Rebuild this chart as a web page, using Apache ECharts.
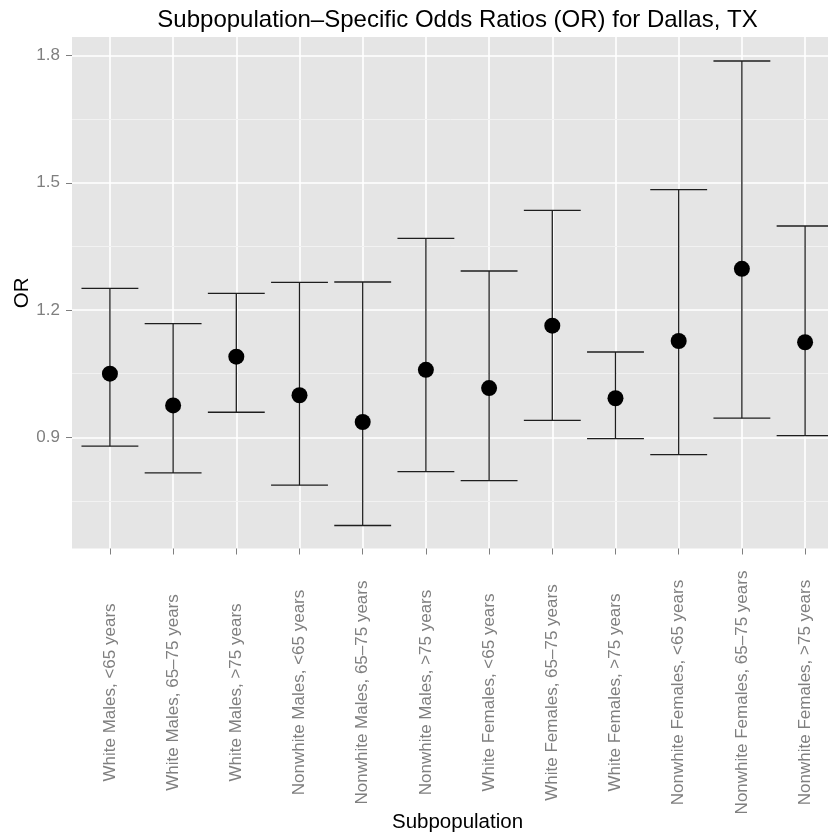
<!DOCTYPE html>
<html>
<head>
<meta charset="utf-8">
<script src="https://cdn.jsdelivr.net/npm/echarts@6/dist/echarts.min.js"></script>
<style>
  html, body { margin: 0; padding: 0; background: #ffffff; }
  #chart { width: 828px; height: 837px; }
</style>
</head>
<body>
<div id="chart"></div>
<script>
const categories = [
  'White Males, <65 years',
  'White Males, 65–75 years',
  'White Males, >75 years',
  'Nonwhite Males, <65 years',
  'Nonwhite Males, 65–75 years',
  'Nonwhite Males, >75 years',
  'White Females, <65 years',
  'White Females, 65–75 years',
  'White Females, >75 years',
  'Nonwhite Females, <65 years',
  'Nonwhite Females, 65–75 years',
  'Nonwhite Females, >75 years'
];
const orValues = [1.050, 0.975, 1.090, 0.999, 0.936, 1.059, 1.016, 1.163, 0.992, 1.127, 1.297, 1.124];
const lowerCI  = [0.879, 0.816, 0.959, 0.787, 0.692, 0.819, 0.798, 0.940, 0.897, 0.859, 0.945, 0.904];
const upperCI  = [1.251, 1.168, 1.239, 1.265, 1.266, 1.369, 1.292, 1.435, 1.101, 1.484, 1.787, 1.398];
const yMajorTicks = [0.9, 1.2, 1.5, 1.8];
const yMinorTicks = [0.75, 1.05, 1.35, 1.65];
const xPositions = categories.map((c, i) => i + 1);

const FONT = '"Liberation Sans", Arial, Helvetica, sans-serif';

const chart = echarts.init(document.getElementById('chart'), null, { renderer: 'canvas' });

const errData = categories.map((c, i) => [i + 1, lowerCI[i], upperCI[i]]);
const pointData = categories.map((c, i) => [i + 1, orValues[i]]);

const option = {
  animation: false,
  backgroundColor: '#ffffff',
  title: {
    text: 'Subpopulation–Specific Odds Ratios (OR) for Dallas, TX',
    left: 457.5,
    textAlign: 'center',
    top: 8,
    padding: 0,
    textStyle: { fontFamily: FONT, fontSize: 24, fontWeight: 'normal', color: '#000000' }
  },
  grid: {
    left: 72,
    right: -15,
    top: 37,
    bottom: 288.5,
    containLabel: false,
    outerBoundsMode: 'none',
    show: true,
    backgroundColor: '#E5E5E5',
    borderWidth: 0
  },
  xAxis: {
    type: 'value',
    min: 0.4,
    max: 12.6,
    name: 'Subpopulation',
    nameLocation: 'middle',
    nameGap: 263,
    nameMoveOverlap: false,
    nameTextStyle: { fontFamily: FONT, fontSize: 20.5, color: '#000000' },
    axisLine: { show: false },
    axisTick: { show: true, length: 6, customValues: xPositions, lineStyle: { color: '#7F7F7F', width: 1 } },
    axisLabel: {
      customValues: xPositions,
      formatter: (v) => categories[Math.round(v) - 1] || '',
      rotate: 90,
      align: 'center',
      verticalAlign: 'middle',
      margin: 144,
      fontFamily: FONT,
      fontSize: 17,
      color: '#7F7F7F'
    },
    splitLine: { show: true, lineStyle: { color: '#FFFFFF', width: 1.6 } }
  },
  yAxis: {
    type: 'value',
    min: 0.6378,
    max: 1.8436,
    name: 'OR',
    nameLocation: 'middle',
    nameGap: 39,
    nameMoveOverlap: false,
    nameRotate: 90,
    nameTextStyle: { fontFamily: FONT, fontSize: 20.5, color: '#000000' },
    axisLine: { show: false },
    axisTick: { show: true, length: 6, customValues: yMajorTicks, lineStyle: { color: '#7F7F7F', width: 1 } },
    axisLabel: {
      customValues: yMajorTicks,
      formatter: (v) => v.toFixed(1),
      margin: 12,
      fontFamily: FONT,
      fontSize: 17,
      color: '#7F7F7F'
    },
    splitLine: { show: true, lineStyle: { color: '#FFFFFF', width: 1.6 } }
  },
  series: [
    {
      type: 'line',
      data: [],
      z: 1,
      silent: true,
      symbol: 'none',
      markLine: {
        z: 1,
        silent: true,
        symbol: ['none', 'none'],
        label: { show: false },
        emphasis: { disabled: true },
        lineStyle: { color: '#F2F2F2', width: 1, type: 'solid' },
        data: yMinorTicks.map(v => ({ yAxis: v }))
      }
    },
    {
      type: 'custom',
      z: 3,
      silent: true,
      data: errData,
      encode: { x: 0, y: [1, 2] },
      renderItem: function (params, api) {
        const x = api.value(0);
        const lo = api.value(1);
        const hi = api.value(2);
        const pLo = api.coord([x, lo]);
        const pHi = api.coord([x, hi]);
        const half = api.size([0.45, 0])[0];
        const style = { stroke: '#1E1E1E', lineWidth: 1.3 };
        return {
          type: 'group',
          children: [
            { type: 'line', shape: { x1: pLo[0], y1: pLo[1], x2: pHi[0], y2: pHi[1] }, style: style },
            { type: 'line', shape: { x1: pHi[0] - half, y1: pHi[1], x2: pHi[0] + half, y2: pHi[1] }, style: style },
            { type: 'line', shape: { x1: pLo[0] - half, y1: pLo[1], x2: pLo[0] + half, y2: pLo[1] }, style: style }
          ]
        };
      }
    },
    {
      type: 'scatter',
      z: 4,
      silent: true,
      data: pointData,
      symbol: 'circle',
      symbolSize: 16,
      itemStyle: { color: '#000000', borderWidth: 0, opacity: 1 }
    }
  ]
};

chart.setOption(option);
</script>
</body>
</html>
